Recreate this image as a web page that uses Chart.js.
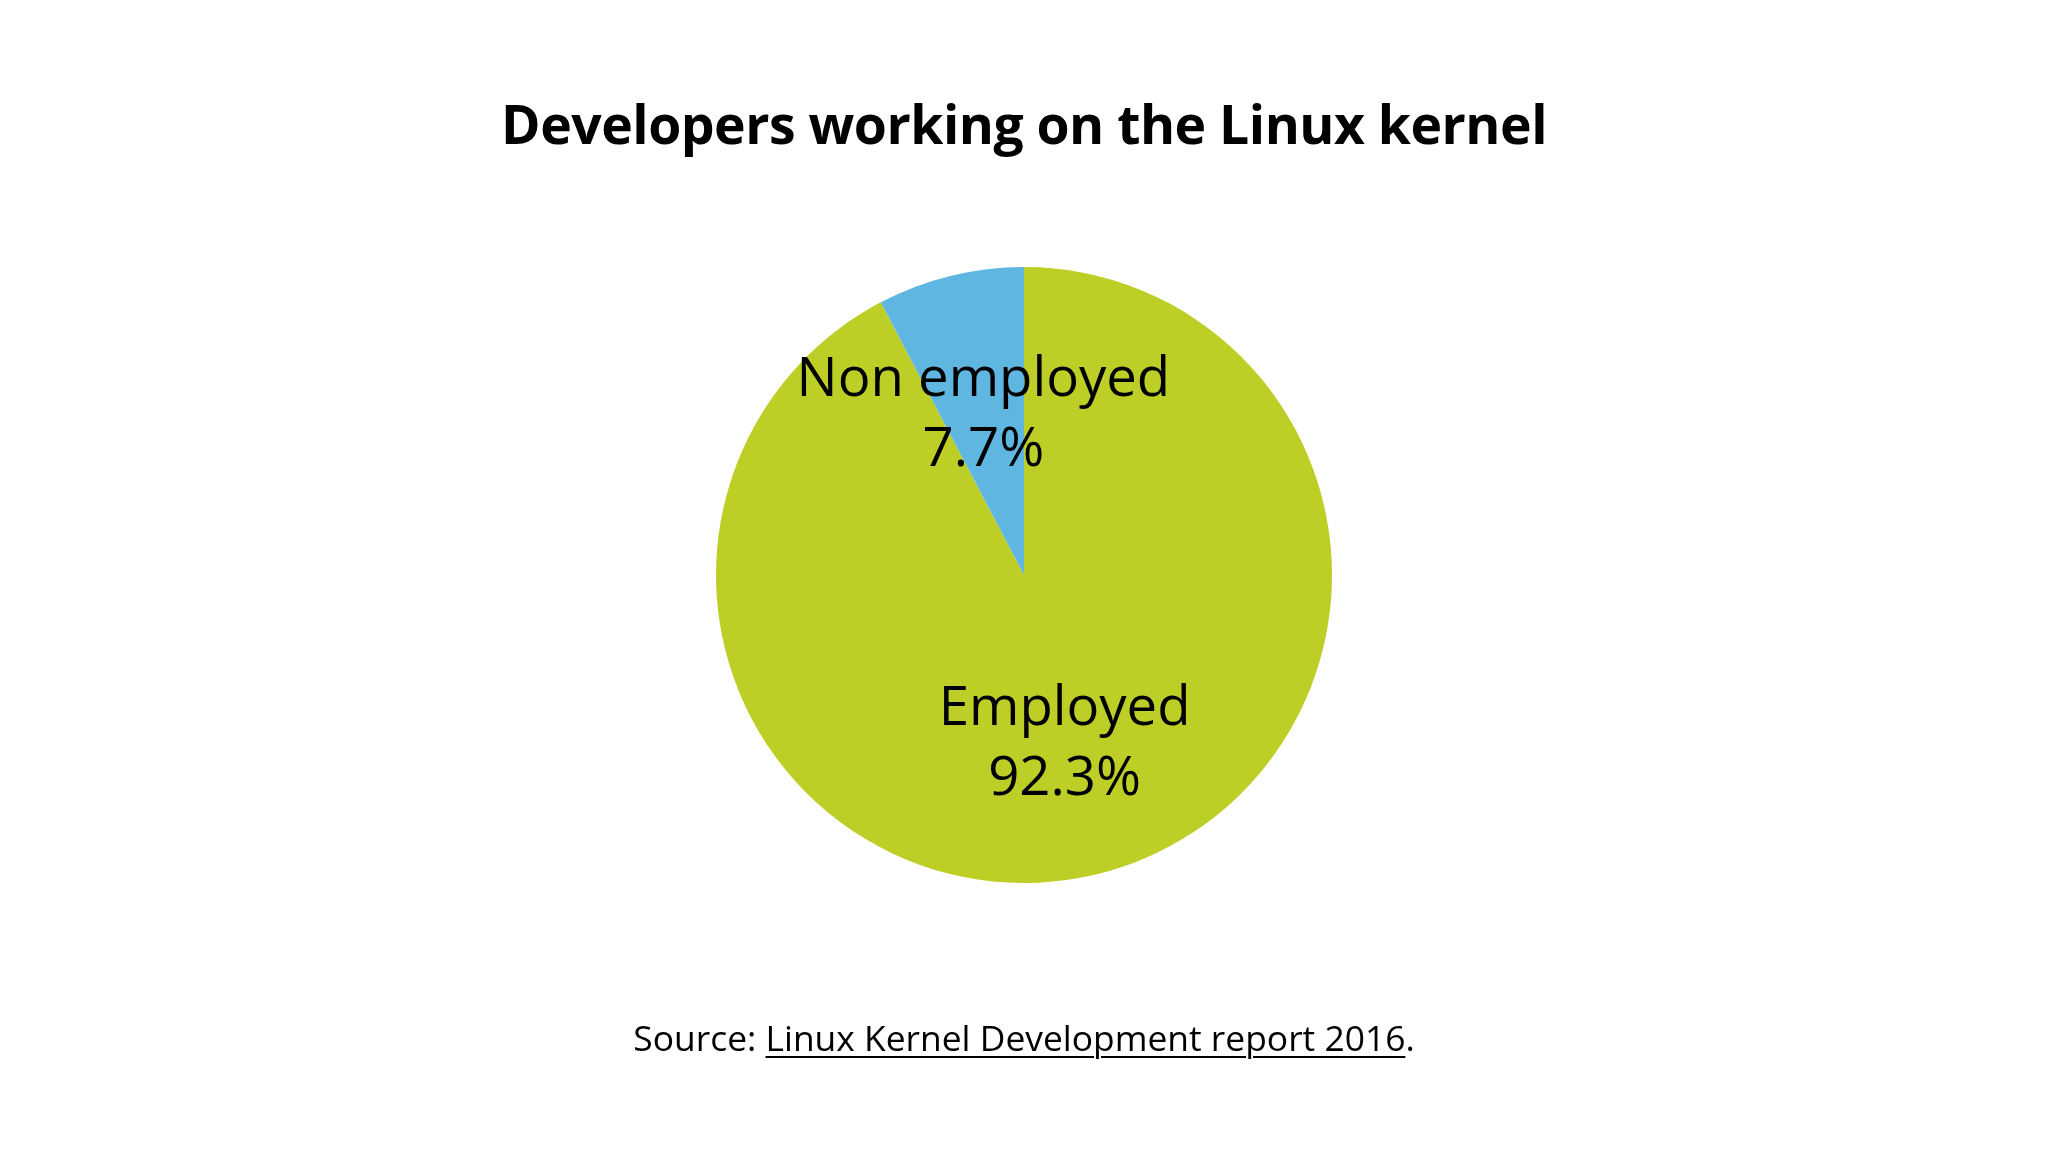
<!DOCTYPE html>
<html>
<head>
<meta charset="utf-8">
<script src="https://cdn.jsdelivr.net/npm/chart.js@4/dist/chart.umd.min.js"></script>
<style>
  html, body { margin: 0; padding: 0; background: #ffffff; width: 2048px; height: 1152px; overflow: hidden; }
  #wrap { position: absolute; left: 0; top: 0; width: 2048px; height: 1152px; }
  #title { position: absolute; left: 0; width: 2048px; top: 89px; text-align: center;
    font-family: "Open Sans", sans-serif; font-weight: 700; font-size: 53.5px; color: #000; line-height: 70px; letter-spacing: -0.5px; }
  #source { position: absolute; left: 0; width: 2048px; top: 1014px; text-align: center;
    font-family: "Open Sans", sans-serif; font-weight: 400; font-size: 35.4px; color: #000; line-height: 46px; }
  #source u { text-decoration-thickness: 2px; text-underline-offset: 5px; }
</style>
</head>
<body>
<div id="wrap"><canvas id="c" width="2048" height="1152"></canvas></div>
<div id="title">Developers working on the Linux kernel</div>
<div id="source">Source: <u>Linux Kernel Development report 2016</u>.</div>
<script>
const categories = ["Employed", "Non employed"];
const values = [92.3, 7.7];
const valueLabels = ["92.3%", "7.7%"];
const colors = ["#bdcf26", "#5fb6e0"];

const labelPlugin = {
  id: 'sliceLabels',
  afterDatasetsDraw(chart) {
    const ctx = chart.ctx;
    const meta = chart.getDatasetMeta(0);
    ctx.save();
    ctx.fillStyle = '#000';
    ctx.textAlign = 'center';
    ctx.textBaseline = 'middle';
    ctx.font = '400 54.5px "Open Sans", sans-serif';
    meta.data.forEach((arc, i) => {
      const p = arc.getProps(['x', 'y', 'startAngle', 'endAngle', 'outerRadius'], true);
      const mid = (p.startAngle + p.endAngle) / 2;
      const r = p.outerRadius * 0.55;
      const cx = p.x + Math.cos(mid) * r;
      const cy = p.y + Math.sin(mid) * r + 5;
      ctx.fillText(categories[i], cx, cy - 35);
      ctx.fillText(valueLabels[i], cx, cy + 35);
    });
    ctx.restore();
  }
};

new Chart(document.getElementById('c'), {
  type: 'pie',
  data: {
    labels: categories,
    datasets: [{ data: values, backgroundColor: colors, borderWidth: 0 }]
  },
  options: {
    responsive: false,
    animation: false,
    layout: { padding: { top: 267, bottom: 269, left: 0, right: 0 } },
    plugins: { legend: { display: false }, tooltip: { enabled: false }, title: { display: false } }
  },
  plugins: [labelPlugin]
});
</script>
</body>
</html>
